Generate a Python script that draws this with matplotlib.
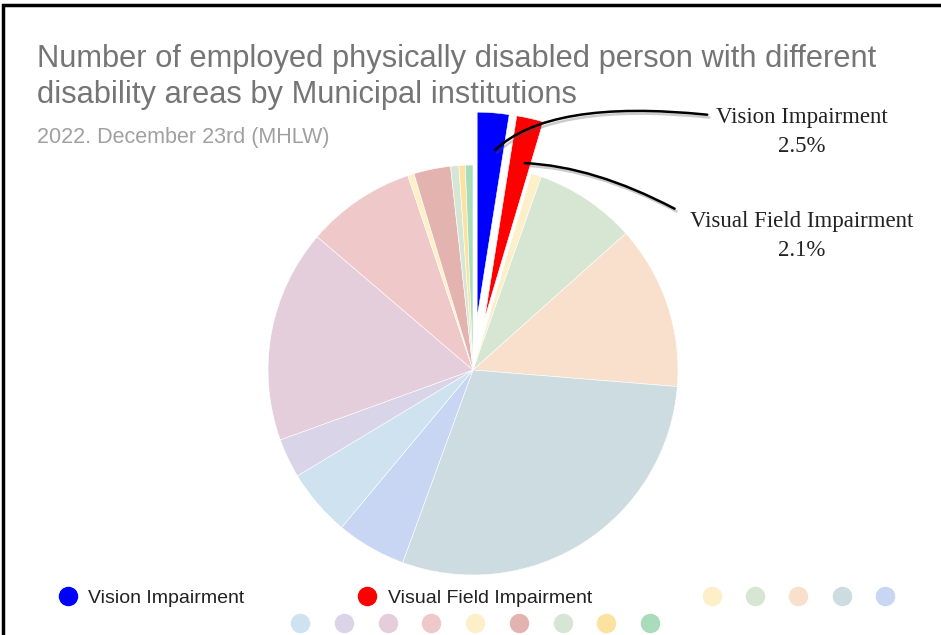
import matplotlib.pyplot as plt
from matplotlib.lines import Line2D
from matplotlib.patches import Rectangle
import matplotlib.patheffects as pe

# ---------------- DATOS ----------------
title = "Number of employed physically disabled person with different\ndisability areas by Municipal institutions"
subtitle = "2022. December 23rd (MHLW)"

labels = ["Vision Impairment", "Visual Field Impairment", "", "", "", "", "",
          "", "", "", "", "", "", "", "", ""]
shares = [2.5, 2.1, 0.8, 8.0, 12.9, 29.3, 5.5, 5.3, 3.1, 16.8, 8.6, 0.5, 2.9, 0.65, 0.5, 0.6]
colors = ["#0000ff", "#ff0000", "#fdefc8", "#d7e6d3", "#f8e0cd", "#cddce1", "#c8d6f3",
          "#cfe2f0", "#d9d4e7", "#e5cedc", "#efc9c9", "#fdefc8", "#e3b4af", "#d6e6d5",
          "#fbe2a0", "#a9dcbb"]

W, H = 941, 635
fig = plt.figure(figsize=(W / 100, H / 100), dpi=100)
ax = fig.add_axes([0, 0, 1, 1])
ax.set_xlim(0, W)
ax.set_ylim(0, H)
ax.set_aspect("equal")
ax.axis("off")

# pie: centre (473, 370) px desde arriba, radio 205 px; explode en unidades de datos
cx, cy, r = 473, H - 370, 205
explode = [53, 53] + [0] * 14
wedges, _ = ax.pie(shares, colors=colors, explode=explode, startangle=90,
                   counterclock=False, center=(cx, cy), radius=r,
                   wedgeprops=dict(edgecolor="white", linewidth=0.4))
ax.set_xlim(0, W)
ax.set_ylim(0, H)

# título y subtítulo
fig.text(37 / W, 1 - 44 / H, title, ha="left", va="top", fontsize=22.2,
         color="#757575", family="Liberation Sans", linespacing=1.25)
fig.text(37 / W, 1 - 127 / H, subtitle, ha="left", va="top", fontsize=15.5,
         color="#a0a0a0", family="Liberation Sans")

# anotaciones con líneas curvas
shadow = [pe.SimpleLineShadow(offset=(1.5, -2), alpha=0.3, shadow_color="#555555"),
          pe.Normal()]
ax.annotate("", xy=(493, H - 152), xytext=(710, H - 115),
            arrowprops=dict(arrowstyle="-", color="black", lw=1.8,
                            connectionstyle="angle3,angleA=-6,angleB=45",
                            path_effects=shadow))
ax.annotate("", xy=(522, H - 163), xytext=(677, H - 210),
            arrowprops=dict(arrowstyle="-", color="black", lw=1.8,
                            connectionstyle="angle3,angleA=152,angleB=-2",
                            path_effects=shadow))
ax.text(802, H - 132, f"{labels[0]}\n{shares[0]}%", ha="center", va="center",
        fontsize=16.5, family="Liberation Serif", color="#222222", linespacing=1.5)
ax.text(802, H - 236, f"{labels[1]}\n{shares[1]}%", ha="center", va="center",
        fontsize=16.5, family="Liberation Serif", color="#222222", linespacing=1.5)

# leyenda
def handle(c):
    return Line2D([], [], marker="o", ls="", ms=13, color=c)

leg_kw = dict(frameon=False, borderpad=0, borderaxespad=0, handlelength=1.0,
              prop={"family": "Liberation Sans", "size": 14})
fig.legend([handle(c) for c in colors[:2]], labels[:2], ncol=2,
           loc="center left", bbox_to_anchor=(58.3 / W, 1 - 598 / H),
           handletextpad=0.55, columnspacing=5.8, labelcolor="#222222", **leg_kw)
fig.legend([handle(c) for c in colors[2:7]], labels[2:7], ncol=5,
           loc="center left", bbox_to_anchor=(702.3 / W, 1 - 598 / H),
           handletextpad=0, columnspacing=1.22, **leg_kw)
fig.legend([handle(c) for c in colors[7:]], labels[7:], ncol=9,
           loc="center left", bbox_to_anchor=(290.3 / W, 1 - 625 / H),
           handletextpad=0, columnspacing=1.25, **leg_kw)

# marco
fig.patches.append(Rectangle((3 / W, -0.1), 1.2, 1.1 - 5 / H, transform=fig.transFigure,
                             fill=False, edgecolor="black", linewidth=2.5))

fig.savefig("out.png", dpi=100)
